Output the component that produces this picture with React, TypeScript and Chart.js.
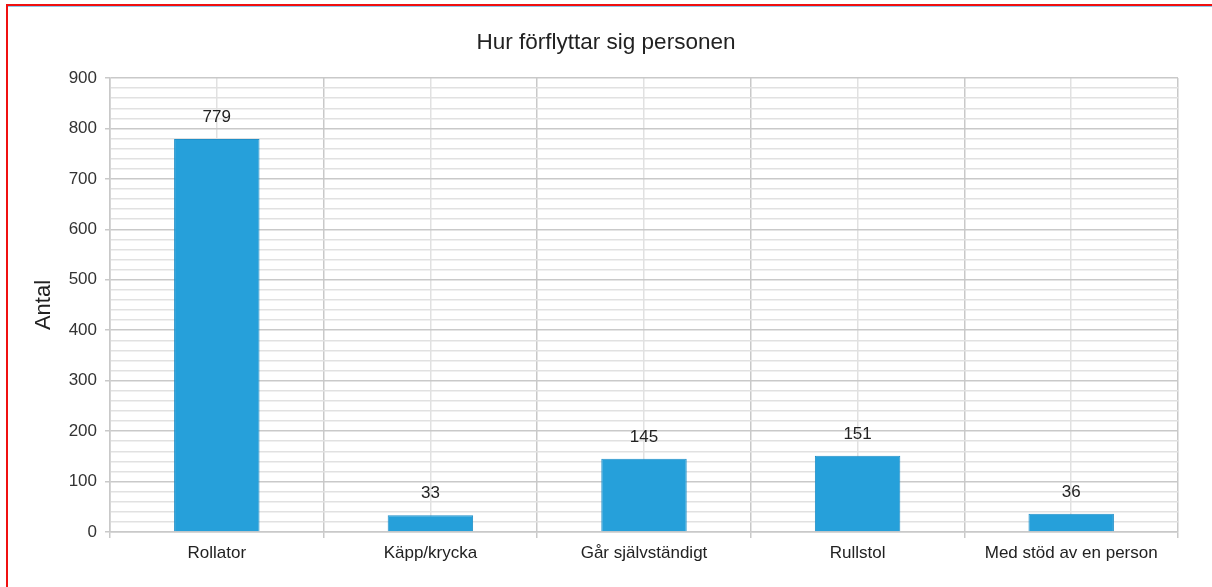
import React, { useEffect, useRef } from "react";
import { Chart, registerables } from "chart.js";

Chart.register(...registerables);

const chartTitle = "Hur förflyttar sig personen";
const yAxisTitle = "Antal";
const categories = ["Rollator", "Käpp/krycka", "Går självständigt", "Rullstol", "Med stöd av en person"];
const counts = [779, 33, 145, 151, 36];
const yMin = 0;
const yMax = 900;
const yMinorStep = 20;
const yLabelStep = 100;

const FONT = "'Liberation Sans', Arial, sans-serif";
const MAJOR = "#c9c9c9";
const MINOR = "#e1e1e1";

const valueLabels = {
  id: "valueLabels",
  afterDatasetsDraw(chart: any) {
    const ctx = chart.ctx;
    const meta = chart.getDatasetMeta(0);
    const data = chart.data.datasets[0].data as number[];
    ctx.save();
    ctx.font = `17px ${FONT}`;
    ctx.fillStyle = "#222";
    ctx.textAlign = "center";
    ctx.textBaseline = "middle";
    meta.data.forEach((bar: any, i: number) => {
      ctx.fillText(String(data[i]), bar.x, bar.y - 22);
    });
    ctx.restore();
  },
};

export default function App() {
  const ref = useRef<HTMLCanvasElement | null>(null);

  useEffect(() => {
    if (!ref.current) return;
    const chart = new Chart(ref.current, {
      type: "bar",
      data: {
        labels: categories,
        datasets: [
          {
            data: counts,
            backgroundColor: "#26a0da",
            borderColor: "#1f8fc8",
            borderWidth: 1,
            categoryPercentage: 1,
            barPercentage: 0.4,
            xAxisID: "x",
            yAxisID: "y",
          },
        ],
      },
      options: {
        responsive: false,
        animation: false,
        layout: { padding: 0 },
        plugins: {
          legend: { display: false },
          tooltip: { enabled: false },
          title: {
            display: true,
            text: chartTitle,
            color: "#222",
            font: { family: FONT, size: 22.5, weight: "normal" },
            padding: { top: 29, bottom: 22 },
          },
        },
        scales: {
          x: {
            type: "category",
            offset: true,
            grid: {
              offset: true,
              color: MAJOR,
              lineWidth: 1.5,
              tickLength: 6,
              tickColor: MAJOR,
            },
            border: { color: MAJOR, width: 1.5 },
            ticks: {
              color: "#222",
              font: { family: FONT, size: 17 },
              padding: 5,
              maxRotation: 0,
              autoSkip: false,
            },
            afterFit: (s: any) => {
              s.height = 55;
            },
          },
          x2: {
            type: "category",
            labels: categories,
            position: "bottom",
            offset: true,
            grid: { offset: false, color: MINOR, lineWidth: 1.5, drawTicks: false },
            border: { display: false },
            ticks: { display: false },
            afterFit: (s: any) => {
              s.height = 0;
            },
          },
          y: {
            min: yMin,
            max: yMax,
            ticks: {
              stepSize: yMinorStep,
              autoSkip: false,
              color: "#333",
              font: { family: FONT, size: 17 },
              padding: 8,
              callback: (v: any) => (Number(v) % yLabelStep === 0 ? String(v) : ""),
            },
            grid: {
              color: (c: any) => (c.tick && c.tick.value % yLabelStep === 0 ? MAJOR : MINOR),
              tickColor: (c: any) => (c.tick && c.tick.value % yLabelStep === 0 ? MAJOR : "rgba(0,0,0,0)"),
              lineWidth: 1.5,
              tickLength: 5,
            },
            border: { color: MAJOR, width: 1.5 },
            title: {
              display: true,
              text: yAxisTitle,
              color: "#222",
              font: { family: FONT, size: 22 },
              padding: { top: 31, bottom: 0 },
            },
            afterFit: (s: any) => {
              s.width = 110;
            },
          },
          yRight: {
            position: "right",
            min: yMin,
            max: yMax,
            grid: { display: false, drawTicks: false },
            border: { display: false },
            ticks: { display: false },
            afterFit: (s: any) => {
              s.width = 34;
            },
          },
        },
      },
      plugins: [valueLabels],
    } as any);
    return () => chart.destroy();
  }, []);

  return (
    <div style={{ position: "absolute", left: 0, top: 0, width: 1212, height: 587, background: "#fff" }}>
      <canvas ref={ref} width={1212} height={587} style={{ position: "absolute", left: 0, top: 0 }} />
      <div style={{ position: "absolute", left: 6, top: 4, width: 1206, height: 2, background: "#f01010" }} />
      <div style={{ position: "absolute", left: 8, top: 6, width: 1204, height: 1, background: "#8ccaf0" }} />
      <div style={{ position: "absolute", left: 6, top: 4, width: 2, height: 583, background: "#f01010" }} />
    </div>
  );
}
